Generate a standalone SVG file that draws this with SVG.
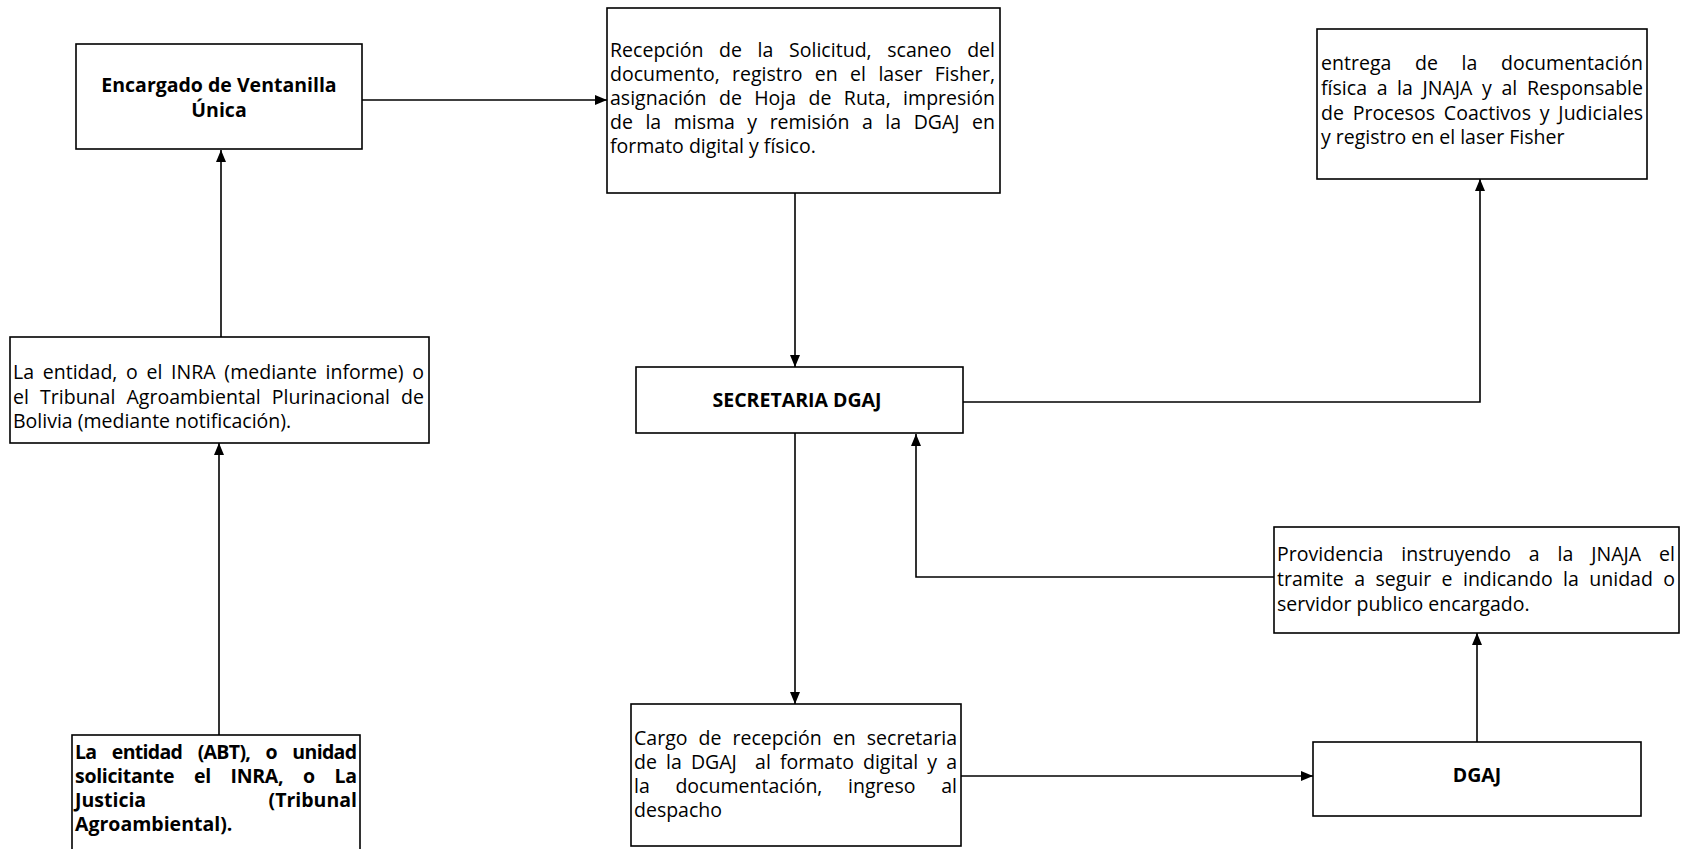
<svg xmlns="http://www.w3.org/2000/svg" width="1681" height="849" viewBox="0 0 1681 849">
<style>
.box{fill:#fff;stroke:#000;stroke-width:1.6}
.t{font-family:"Open Sans","Liberation Sans",sans-serif;fill:#000;font-size:19.5px}
.b{font-weight:bold}
.c{text-anchor:middle}
.e{text-anchor:end}
.pre{white-space:pre}
.conn{stroke:#000;stroke-width:1.6;fill:none;marker-end:url(#ah)}
</style>
<defs>
<marker id="ah" markerUnits="userSpaceOnUse" markerWidth="12" markerHeight="10" refX="12" refY="5" orient="auto">
<path d="M0,0 L12,5 L0,10 z" fill="#000"/>
</marker>
</defs>
<rect width="1681" height="849" fill="#fff"/>

<g id="connectors">
<path class="conn" d="M221,337 V150"/>
<path class="conn" d="M219,735 V443"/>
<path class="conn" d="M362,100 H607"/>
<path class="conn" d="M795,193 V367"/>
<path class="conn" d="M963,402 H1480 V179"/>
<path class="conn" d="M795,433 V704"/>
<path class="conn" d="M961,776 H1313"/>
<path class="conn" d="M1477,742 V633"/>
<path class="conn" d="M1274,577 H916 V434"/>
</g>

<g id="ventanilla">
<rect class="box" x="76" y="44" width="286" height="105"/>
<text class="t b c" x="219" y="92" font-size="18">Encargado de Ventanilla</text>
<text class="t b c" x="219" y="117" font-size="18">Única</text>
</g>

<g id="recepcion">
<rect class="box" x="607" y="8" width="393" height="185"/>
<text class="t" x="610" y="57" word-spacing="10.5" textLength="385" lengthAdjust="spacing">Recepción de la Solicitud, scaneo del</text>
<text class="t" x="610" y="81" word-spacing="7.3" textLength="385" lengthAdjust="spacing">documento, registro en el laser Fisher,</text>
<text class="t" x="610" y="105" word-spacing="7.3" textLength="385" lengthAdjust="spacing">asignación de Hoja de Ruta, impresión</text>
<text class="t" x="610" y="129" word-spacing="7.4" textLength="385" lengthAdjust="spacing">de la misma y remisión a la DGAJ en</text>
<text class="t" x="610" y="153">formato digital y físico.</text>
</g>

<g id="entrega">
<rect class="box" x="1317" y="29" width="330" height="150"/>
<text class="t" x="1321" y="70" word-spacing="18.5" textLength="322" lengthAdjust="spacing">entrega de la documentación</text>
<text class="t" x="1321" y="95" word-spacing="4.5" textLength="322" lengthAdjust="spacing">física a la JNAJA y al Responsable</text>
<text class="t" x="1321" y="120" word-spacing="3.7" textLength="322" lengthAdjust="spacing">de Procesos Coactivos y Judiciales</text>
<text class="t" x="1321" y="144">y registro en el laser Fisher</text>
</g>

<g id="entidad-inra">
<rect class="box" x="10" y="337" width="419" height="106"/>
<text class="t" x="13" y="379" word-spacing="3.6" textLength="411" lengthAdjust="spacing">La entidad, o el INRA (mediante informe) o</text>
<text class="t" x="13" y="404" word-spacing="6" textLength="411" lengthAdjust="spacing">el Tribunal Agroambiental Plurinacional de</text>
<text class="t" x="13" y="428">Bolivia (mediante notificación).</text>
</g>

<g id="secretaria">
<rect class="box" x="636" y="367" width="327" height="66"/>
<text class="t b c" x="797" y="407" font-size="16.5">SECRETARIA DGAJ</text>
</g>

<g id="providencia">
<rect class="box" x="1274" y="527" width="405" height="106"/>
<text class="t" x="1277" y="561" word-spacing="12.8" textLength="398" lengthAdjust="spacing">Providencia instruyendo a la JNAJA el</text>
<text class="t" x="1277" y="586" word-spacing="5.3" textLength="398" lengthAdjust="spacing">tramite a seguir e indicando la unidad o</text>
<text class="t" x="1277" y="611">servidor publico encargado.</text>
</g>

<g id="entidad-abt">
<rect class="box" x="72" y="735" width="288" height="116"/>
<text class="t b" x="75" y="759" font-size="16" word-spacing="11" textLength="282" lengthAdjust="spacing">La entidad (ABT), o unidad</text>
<text class="t b" x="75" y="783" font-size="16" word-spacing="15" textLength="282" lengthAdjust="spacing">solicitante el INRA, o La</text>
<text class="t b" x="75" y="807" font-size="16">Justicia</text>
<text class="t b e" x="357" y="807" font-size="16">(Tribunal</text>
<text class="t b" x="75" y="831" font-size="16">Agroambiental).</text>
</g>

<g id="cargo">
<rect class="box" x="631" y="704" width="330" height="142"/>
<text class="t" x="634" y="745" word-spacing="5.9" textLength="323" lengthAdjust="spacing">Cargo de recepción en secretaria</text>
<text class="t pre" x="634" y="769" word-spacing="4" textLength="323" lengthAdjust="spacing">de la DGAJ  al formato digital y a</text>
<text class="t" x="634" y="793" word-spacing="20.5" textLength="323" lengthAdjust="spacing">la documentación, ingreso al</text>
<text class="t" x="634" y="817">despacho</text>
</g>

<g id="dgaj">
<rect class="box" x="1313" y="742" width="328" height="74"/>
<text class="t b c" x="1477" y="782" font-size="16">DGAJ</text>
</g>
</svg>
